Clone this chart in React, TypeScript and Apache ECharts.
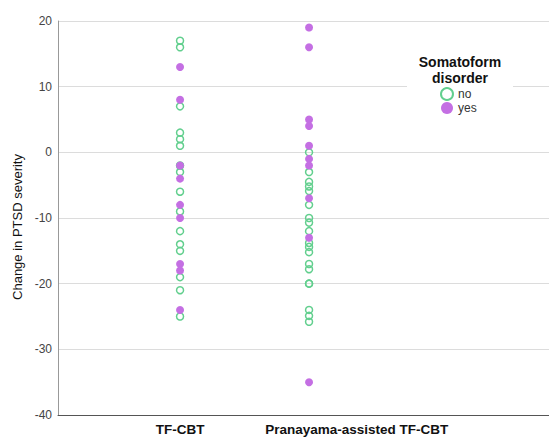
import React, { useEffect, useRef } from "react";
import * as echarts from "echarts";

const categories = ["TF-CBT", "Pranayama-assisted TF-CBT"];
const groups = ["no", "yes"];
const legendTitle = "Somatoform\ndisorder";
const yAxisName = "Change in PTSD severity";

// TF-CBT
const tfcbtNo = [17, 16, 7, 3, 2, 1, -2, -3, -6, -9, -12, -14, -15, -19, -21, -25];
const tfcbtYes = [13, 8, -2, -4, -8, -10, -17, -18, -24];
// Pranayama-assisted TF-CBT
const pranNo = [0, -3, -4.5, -5.2, -5.9, -8, -10, -10.7, -12, -13.8, -14.4, -15.2, -17, -17.8, -20, -20, -24, -24.9, -25.8];
const pranYes = [19, 16, 5, 4, 1, -1, -2, -7, -13, -35];

const yMin = -40;
const yMax = 20;
const yInterval = 10;

const GREEN = "#62cf8e";
const PURPLE = "#c46fe3";
const FONT = "Arial, 'Liberation Sans', sans-serif";

export default function App() {
  const ref = useRef<HTMLDivElement>(null);
  useEffect(() => {
    if (!ref.current) return;
    const chart = echarts.init(ref.current, null, { renderer: "svg" });
    const noData = [
      ...tfcbtNo.map((v) => [1, v]),
      ...pranNo.map((v) => [2, v]),
    ];
    const yesData = [
      ...tfcbtYes.map((v) => [1, v]),
      ...pranYes.map((v) => [2, v]),
    ];
    chart.setOption({
      animation: false,
      backgroundColor: "#fff",
      textStyle: { fontFamily: FONT },
      grid: { left: 58, right: 0, top: 21, bottom: 22 },
      xAxis: {
        type: "value",
        min: 0.054,
        max: 3.86,
        splitLine: { show: false },
        axisTick: { show: false },
        axisLine: { show: true, onZero: false, lineStyle: { color: "#555", width: 1 } },
        axisLabel: {
          customValues: [1, 2.37],
          formatter: (v: number) => (v < 1.5 ? categories[0] : categories[1]),
          fontWeight: "bold",
          fontSize: 13.5,
          color: "#111",
          fontFamily: FONT,
          margin: 7,
        },
      },
      yAxis: {
        type: "value",
        min: yMin,
        max: yMax,
        interval: yInterval,
        name: yAxisName,
        nameLocation: "middle",
        nameGap: 33,
        nameTextStyle: { fontSize: 13, color: "#111", fontFamily: FONT, padding: [0, 18, 0, 0] },
        axisLine: { show: true, onZero: false, lineStyle: { color: "#999" } },
        axisTick: { show: false },
        splitLine: { show: true, lineStyle: { color: "#dcdcdc" } },
        axisLabel: { fontSize: 12, color: "#444", margin: 6, fontFamily: FONT },
      },
      graphic: [
        {
          type: "rect",
          z: 50,
          shape: { x: 407, y: 48, width: 106, height: 68 },
          style: { fill: "#fff" },
        },
        {
          type: "text",
          z: 60,
          x: 460,
          y: 54,
          style: {
            text: legendTitle,
            textAlign: "center",
            font: "bold 14px Arial, 'Liberation Sans', sans-serif",
            lineHeight: 16,
            fill: "#111",
          },
        },
      ],
      legend: {
        data: groups,
        orient: "vertical",
        left: 440,
        top: 87,
        z: 60,
        padding: 0,
        itemWidth: 12,
        itemHeight: 12,
        itemGap: 1,
        textStyle: { fontSize: 12, color: "#333", fontFamily: FONT },
      },
      series: [
        {
          name: groups[0],
          type: "scatter",
          symbol: "circle",
          symbolSize: 7,
          itemStyle: { color: "rgba(255,255,255,0)", borderColor: GREEN, borderWidth: 1.5, opacity: 1 },
          data: noData,
        },
        {
          name: groups[1],
          type: "scatter",
          symbol: "circle",
          symbolSize: 8,
          itemStyle: { color: PURPLE, opacity: 1 },
          data: yesData,
        },
      ],
    });
    return () => chart.dispose();
  }, []);
  return (
    <div
      ref={ref}
      style={{ position: "fixed", left: 0, top: 0, width: 549, height: 437 }}
    />
  );
}
